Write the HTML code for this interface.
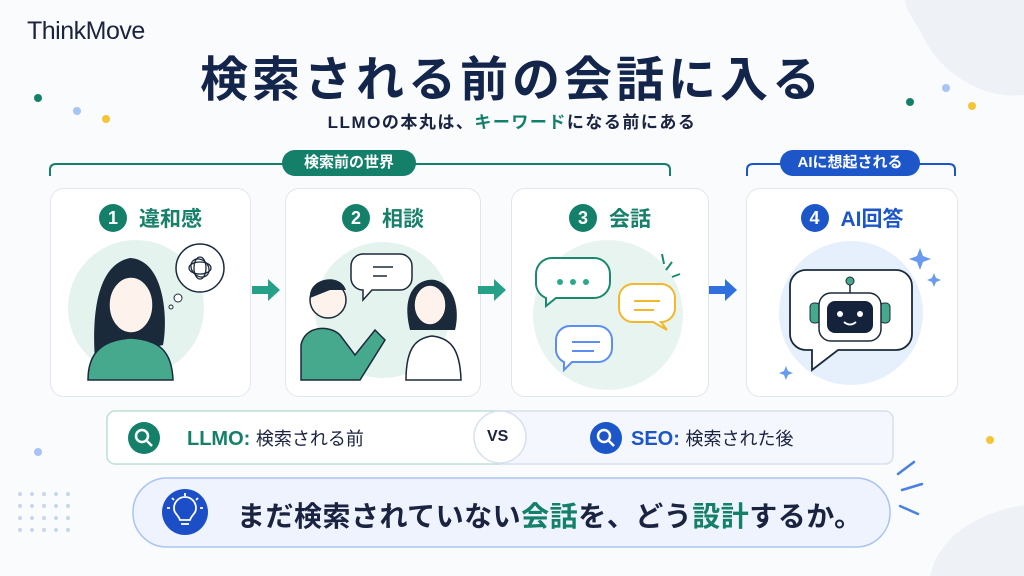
<!DOCTYPE html>
<html><head><meta charset="utf-8"><style>
*{margin:0;padding:0;box-sizing:border-box}
body{width:1024px;height:576px;overflow:hidden;background:#fafbfc;font-family:"Liberation Sans","Noto Sans CJK JP",sans-serif;position:relative}
.a{position:absolute}
.card{position:absolute;background:#fff;border:1.5px solid #e1e6ee;border-radius:14px}
.ct{position:absolute;left:0;right:0;top:14px;text-align:center;font-weight:700;font-size:21px;color:#17806a;white-space:nowrap}
.num{display:inline-block;width:28px;height:28px;border-radius:50%;background:#15806a;color:#fff;font-size:18px;line-height:28px;text-align:center;margin-right:12px;vertical-align:2px}
.pill{position:absolute;color:#fff;font-weight:700;font-size:15px;text-align:center;border-radius:14px;line-height:26px}
</style></head><body>
<svg class="a" style="left:0;top:0" width="1024" height="576">
<path d="M905 0 H1024 V95 C980 100 940 70 925 40 C915 20 905 10 905 0Z" fill="#eef2f6"/>
<path d="M930 576 C940 530 990 510 1024 505 V576Z" fill="#eef2f6"/>
<circle cx="38" cy="98" r="4" fill="#15806a"/><circle cx="77" cy="111" r="4" fill="#a8c4f5"/><circle cx="106" cy="119" r="4" fill="#f5c537"/>
<circle cx="910" cy="102" r="4" fill="#15806a"/><circle cx="946" cy="88" r="4" fill="#a8c4f5"/><circle cx="972" cy="106" r="4" fill="#f5c537"/>
<circle cx="990" cy="440" r="4" fill="#f5c537"/><circle cx="38" cy="452" r="4" fill="#a8c4f5"/>
<g fill="#c8d6ef">
<circle cx="20" cy="494" r="2"/><circle cx="32" cy="494" r="2"/><circle cx="44" cy="494" r="2"/><circle cx="56" cy="494" r="2"/><circle cx="68" cy="494" r="2"/>
<circle cx="20" cy="506" r="2"/><circle cx="32" cy="506" r="2"/><circle cx="44" cy="506" r="2"/><circle cx="56" cy="506" r="2"/><circle cx="68" cy="506" r="2"/>
<circle cx="20" cy="518" r="2"/><circle cx="32" cy="518" r="2"/><circle cx="44" cy="518" r="2"/><circle cx="56" cy="518" r="2"/><circle cx="68" cy="518" r="2"/>
<circle cx="20" cy="530" r="2"/><circle cx="32" cy="530" r="2"/><circle cx="44" cy="530" r="2"/><circle cx="56" cy="530" r="2"/><circle cx="68" cy="530" r="2"/>
</g>
<path d="M50 176 V170 Q50 164 56 164 H664 Q670 164 670 170 V176" fill="none" stroke="#15806a" stroke-width="2"/>
<path d="M747 176 V170 Q747 164 753 164 H949 Q955 164 955 170 V176" fill="none" stroke="#1c56c9" stroke-width="2"/>
<path d="M898 474 L914 462 M902 490 L922 484 M900 506 L918 514" stroke="#4a80e0" stroke-width="2.5" stroke-linecap="round"/>
</svg>
<div class="a" style="left:27px;top:17px;font-size:25px;color:#1a2340;letter-spacing:-0.5px">ThinkMove</div>
<div class="a" style="left:0;width:1024px;top:40px;text-align:center;font-size:48px;font-weight:700;color:#13254a;letter-spacing:4px">検索される前の会話に入る</div>
<div class="a" style="left:0;width:1024px;top:108px;text-align:center;font-size:17px;font-weight:700;color:#1a2340;letter-spacing:1.5px">LLMOの本丸は、<span style="color:#15806a">キーワード</span>になる前にある</div>
<div class="pill" style="left:282px;top:150px;width:134px;background:#15806a">検索前の世界</div>
<div class="pill" style="left:780px;top:150px;width:140px;background:#1c56c9">AIに想起される</div>

<div class="card" style="left:50px;top:188px;width:201px;height:209px"><div class="ct"><span class="num">1</span>違和感</div></div>
<div class="card" style="left:285px;top:188px;width:196px;height:209px"><div class="ct"><span class="num">2</span>相談</div></div>
<div class="card" style="left:511px;top:188px;width:198px;height:209px"><div class="ct"><span class="num">3</span>会話</div></div>
<div class="card" style="left:746px;top:188px;width:212px;height:209px"><div class="ct" style="color:#1c56c9"><span class="num" style="background:#1c56c9">4</span>AI回答</div></div>

<svg class="a" style="left:0;top:0" width="1024" height="576">
<circle cx="136" cy="308" r="68" fill="#e5f3ef"/>
<path d="M95 360 C92 320 95 265 130 258 C165 260 168 320 163 345 Z" fill="#1b2a3a"/>
<ellipse cx="131" cy="305" rx="22" ry="28" fill="#fdf3ec" stroke="#1b2a3a" stroke-width="1.5"/>
<path d="M88 380 C88 350 105 340 131 338 C160 340 172 352 173 380 Z" fill="#46a98e" stroke="#1b2a3a" stroke-width="1.5"/>
<circle cx="200" cy="268" r="24" fill="#fff" stroke="#1b2a3a" stroke-width="1.5"/>
<circle cx="178" cy="298" r="4" fill="#fff" stroke="#1b2a3a"/><circle cx="171" cy="307" r="2" fill="#fff" stroke="#1b2a3a"/>
<g fill="none" stroke="#1b2a3a" stroke-width="1.3"><ellipse cx="200" cy="268" rx="11" ry="6"/><ellipse cx="200" cy="268" rx="6" ry="11"/><ellipse cx="200" cy="268" rx="10" ry="8" transform="rotate(45 200 268)"/></g>
<circle cx="383" cy="310" r="68" fill="#e5f3ef"/>
<path d="M362 254 h38 a12 12 0 0 1 12 12 v12 a12 12 0 0 1 -12 12 h-28 l-9 10 v-10 a12 12 0 0 1 -12 -12 v-12 a12 12 0 0 1 12 -12Z" fill="#fff" stroke="#1b2a3a" stroke-width="1.5"/>
<path d="M373 267 h20 M373 276 h14" stroke="#1b2a3a" stroke-width="1.5"/>
<circle cx="328" cy="300" r="18" fill="#fdf3ec" stroke="#1b2a3a" stroke-width="1.5"/>
<path d="M310 298 C308 278 340 272 346 290 L330 290Z" fill="#1b2a3a"/>
<path d="M301 380 V345 C305 325 330 325 340 335 L355 355 L375 330 L385 340 L360 380Z" fill="#46a98e" stroke="#1b2a3a" stroke-width="1.5"/>
<path d="M410 330 C400 290 420 278 435 280 C455 285 460 310 455 330Z" fill="#1b2a3a"/>
<ellipse cx="430" cy="305" rx="16" ry="20" fill="#fdf3ec" stroke="#1b2a3a" stroke-width="1.5"/>
<path d="M406 380 C406 345 418 338 432 336 C450 338 460 348 461 380Z" fill="#fff" stroke="#1b2a3a" stroke-width="1.5"/>
<circle cx="608" cy="315" r="75" fill="#e8f4f0"/>
<path d="M552 258 h42 a16 16 0 0 1 16 16 v8 a16 16 0 0 1 -16 16 h-38 l-10 8 v-8 a16 16 0 0 1 -10 -16 v-8 a16 16 0 0 1 16 -16Z" fill="#fff" stroke="#1a8a6e" stroke-width="2"/>
<circle cx="560" cy="282" r="3" fill="#2ba98a"/><circle cx="573" cy="282" r="3" fill="#2ba98a"/><circle cx="586" cy="282" r="3" fill="#2ba98a"/>
<path d="M633 284 h28 a14 14 0 0 1 14 14 v10 a14 14 0 0 1 -14 14 l6 8 l-14 -8 h-20 a14 14 0 0 1 -14 -14 v-10 a14 14 0 0 1 14 -14Z" fill="#fff" stroke="#f3b72a" stroke-width="2"/>
<path d="M634 301 h26 M634 310 h20" stroke="#f3b72a" stroke-width="2"/>
<path d="M570 326 h28 a14 14 0 0 1 14 14 v8 a14 14 0 0 1 -14 14 h-26 l-8 8 v-8 a14 14 0 0 1 -8 -14 v-8 a14 14 0 0 1 14 -14Z" fill="#fff" stroke="#5b8ef0" stroke-width="2"/>
<path d="M572 342 h28 M572 351 h22" stroke="#5b8ef0" stroke-width="2"/>
<path d="M662 254 l2 10 M672 262 l-6 8 M680 274 l-8 3" stroke="#1a8a6e" stroke-width="2"/>
<circle cx="851" cy="313" r="72" fill="#e6effc"/>
<path d="M806 270 h90 a16 16 0 0 1 16 16 v48 a16 16 0 0 1 -16 16 h-58 l-26 20 v-20 h-6 a16 16 0 0 1 -16 -16 v-48 a16 16 0 0 1 16 -16Z" fill="#fff" stroke="#1b2a3a" stroke-width="1.8"/>
<rect x="810" y="303" width="10" height="20" rx="4" fill="#46a98e" stroke="#1b2a3a"/><rect x="880" y="303" width="10" height="20" rx="4" fill="#46a98e" stroke="#1b2a3a"/>
<rect x="819" y="293" width="62" height="48" rx="12" fill="#fff" stroke="#1b2a3a" stroke-width="1.5"/>
<rect x="827" y="301" width="46" height="32" rx="8" fill="#14233b"/>
<line x1="850" y1="293" x2="850" y2="284" stroke="#1b2a3a" stroke-width="1.5"/><circle cx="850" cy="281" r="4" fill="#46a98e" stroke="#1b2a3a"/>
<circle cx="840" cy="314" r="3" fill="#fff"/><circle cx="860" cy="314" r="3" fill="#fff"/>
<path d="M844 322 q6 5 12 0" fill="none" stroke="#fff" stroke-width="1.8"/>
<path d="M920 248 l3 8 l8 3 l-8 3 l-3 8 l-3 -8 l-8 -3 l8 -3Z" fill="#6a9af0"/>
<path d="M934 273 l2 5 l5 2 l-5 2 l-2 5 l-2 -5 l-5 -2 l5 -2Z" fill="#6a9af0"/>
<path d="M786 366 l2 5 l5 2 l-5 2 l-2 5 l-2 -5 l-5 -2 l5 -2Z" fill="#6a9af0"/>
<path d="M252 286 h16 v-7 l12 11 l-12 11 v-7 h-16Z" fill="#26a086"/>
<path d="M478 286 h16 v-7 l12 11 l-12 11 v-7 h-16Z" fill="#26a086"/>
<path d="M709 286 h16 v-7 l12 11 l-12 11 v-7 h-16Z" fill="#2f6fe0"/>
<rect x="107" y="411" width="786" height="53" rx="8" fill="#f4f7fd" stroke="#d7e0ee" stroke-width="1.5"/>
<path d="M500 411 H115 a8 8 0 0 0 -8 8 v37 a8 8 0 0 0 8 8 H500Z" fill="#fff" stroke="#bfe0d5" stroke-width="1.5"/>
<circle cx="500" cy="437" r="26" fill="#fff" stroke="#d7e0ee" stroke-width="1.5"/>
<circle cx="144" cy="438" r="16" fill="#15806a"/><circle cx="606" cy="438" r="16" fill="#1c56c9"/>
<g fill="none" stroke="#fff" stroke-width="2.5"><circle cx="142" cy="436" r="6"/><path d="M147 441 l5 5"/><circle cx="604" cy="436" r="6"/><path d="M609 441 l5 5"/></g>
<rect x="133" y="478" width="757" height="69" rx="34" fill="#eef3fd" stroke="#a9c4f0" stroke-width="1.5"/>
<circle cx="185" cy="512" r="23" fill="#1c4fc7"/>
<g fill="none" stroke="#fff" stroke-width="1.8"><path d="M180 520 c-2-6 -6-6 -6-12 a11 11 0 0 1 22 0 c0 6 -4 6 -6 12Z"/><path d="M181 524 h8"/><path d="M185 493 v3 M172 498 l2 2 M198 498 l-2 2 M167 508 h3 M203 508 h-3"/></g>
</svg>
<div class="a" style="left:187px;top:425px;font-size:20px;font-weight:700;color:#15806a;white-space:nowrap">LLMO: <span style="color:#1a2340;font-weight:400;font-size:18px">検索される前</span></div>
<div class="a" style="left:487px;top:428px;font-size:16px;font-weight:700;color:#1a2340">VS</div>
<div class="a" style="left:631px;top:425px;font-size:20px;font-weight:700;color:#1c56c9;white-space:nowrap">SEO: <span style="color:#1a2340;font-weight:400;font-size:18px">検索された後</span></div>
<div class="a" style="left:237px;top:495px;font-size:28px;font-weight:700;color:#1a2340;white-space:nowrap;letter-spacing:0.5px">まだ検索されていない<span style="color:#15806a">会話</span>を、どう<span style="color:#15806a">設計</span>するか。</div>
</body></html>
